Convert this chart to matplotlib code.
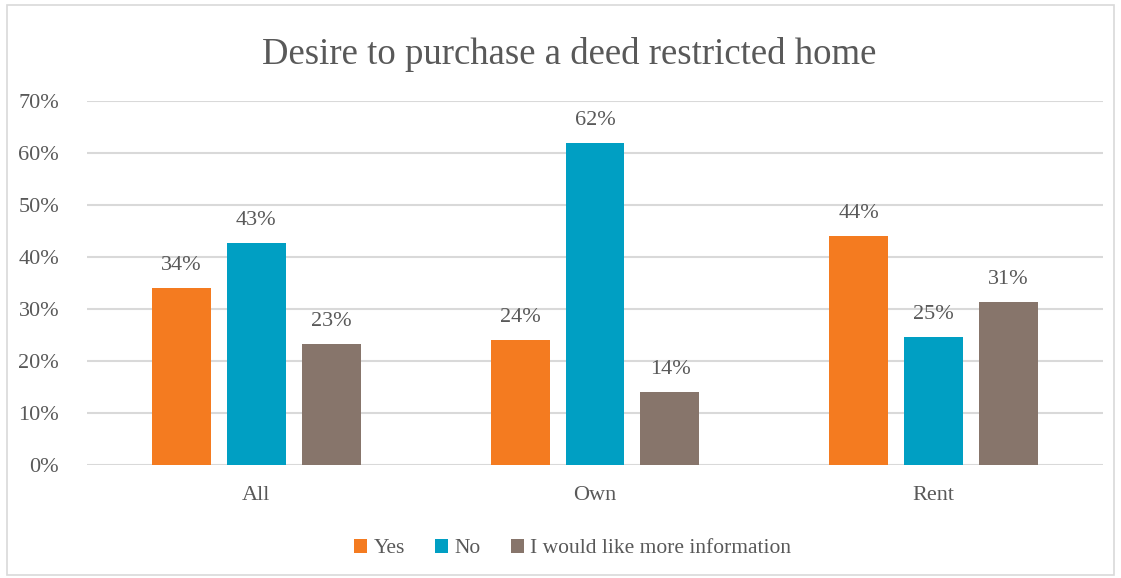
import numpy as np
import matplotlib.pyplot as plt
from matplotlib.patches import Rectangle

# survey answers by tenure group
groups = ['All', 'Own', 'Rent']
answers = ['Yes', 'No', 'I would like more information']
yes = [0.34, 0.24, 0.44]
no = [0.427, 0.62, 0.247]
info = [0.233, 0.14, 0.313]
yticks = [0.0, 0.1, 0.2, 0.3, 0.4, 0.5, 0.6, 0.7]

colors = ['#F47B20', '#009FC3', '#87756B']
txt = '#595959'

plt.rcParams['font.family'] = ['Liberation Serif', 'DejaVu Serif']

fig = plt.figure(figsize=(11.21, 5.78), dpi=100)
ax = fig.add_axes([87/1121, 1-465/578, 1016/1121, 364/578])

x = np.arange(len(groups))
w = 59/338.67
step = 75/338.67
for i, (vals, c) in enumerate(zip([yes, no, info], colors)):
    pos = x + (i-1)*step
    ax.bar(pos, vals, width=w, color=c, label=answers[i], zorder=3)
    for p, v in zip(pos, vals):
        ax.text(p, v + 0.025, f'{v:.0%}', ha='center', va='bottom',
                fontsize=16, color=txt)

ax.set_xlim(-0.5, 2.5)
ax.set_ylim(0, 0.7)
ax.set_yticks(yticks)
ax.set_yticklabels([f'{t:.0%}' for t in yticks])
ax.set_xticks(x)
ax.set_xticklabels(groups)
ax.grid(axis='y', color='#D9D9D9', linewidth=1.5, zorder=0)
ax.tick_params(length=0, labelsize=16, labelcolor=txt)
ax.tick_params(axis='y', pad=20)
ax.tick_params(axis='x', pad=15)
for s in ax.spines.values():
    s.set_visible(False)

# title sits centred on the whole frame, not the plot area
ax.set_title('Desire to purchase a deed restricted home', fontsize=26.5,
             color=txt, pad=27, x=0.475)

ax.legend(loc='upper center', bbox_to_anchor=(0.478, -0.15), ncol=3,
          frameon=False, fontsize=15.5, labelcolor=txt, handlelength=0.6,
          handleheight=0.6, handletextpad=0.3, columnspacing=1.4)

# chart frame
fig.patches.append(Rectangle((7/1121, 3/578), 1107/1121, 570/578,
                             transform=fig.transFigure, fill=False,
                             edgecolor='#D9D9D9', linewidth=1.2))

fig.savefig('out.png', dpi=100)
